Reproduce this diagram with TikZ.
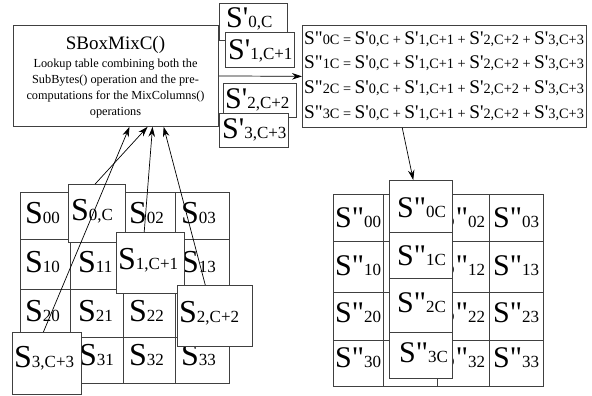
\documentclass[tikz,border=0pt]{standalone}
\usepackage{fontspec}
\newfontfamily\tf{Liberation Serif}
\usetikzlibrary{calc,arrows.meta}
\newcommand{\fs}[1]{\fontsize{#1}{#1}\selectfont}
% grid label: big S + small subscript on same baseline
\newcommand{\Sg}[1]{{\fs{32}S}{\fs{17}#1}}
\newcommand{\Sq}[2]{{\fs{30}S#1}{\fs{17}#2}}
\newcommand{\ES}[2]{{\fs{19.3}S#1}{\fs{14.3}#2}}
\newcommand{\EqLine}[1]{\ES{"}{#1C = }\ES{'}{0,C + }\ES{'}{1,C+1 + }\ES{'}{2,C+2 + }\ES{'}{3,C+3}}
\newcommand{\mkbox}[5]{\node[bx, minimum width=#4pt, minimum height=#5pt] (#1) at (#2,#3) {};}
\begin{document}
\begin{tikzpicture}[x=1pt,y=-1pt,
  bx/.style={draw=black!75, fill=white, line width=0.8pt, inner sep=0pt, anchor=north west},
  tx/.style={anchor=base west, inner sep=0pt, font=\tf},
  arr/.style={draw=black, line width=0.7pt, -{Stealth[length=10pt,width=6.5pt]}}]
\useasboundingbox (0,0) rectangle (592,396);

% ---------- SBoxMixC box ----------
\mkbox{sbox}{13}{25}{205}{101}
\node[anchor=base, inner sep=0pt, font=\tf\fs{19}] (title) at (115.5,50) {SBoxMixC()};
\node[anchor=north, inner sep=0pt, align=center, font=\tf\fontsize{12.3}{16}\selectfont] (desc) at (115.5,58.5)
  {Lookup table combining both the\\SubBytes() operation and the pre-\\computations for the MixColumns()\\operations};

% ---------- S' boxes ----------
\mkbox{sp0}{219}{3}{68}{37}
\node[tx] (sp0t) at (226,28) {\Sq{'}{0,C}};
\mkbox{sp1}{225}{32}{69}{35}
\node[tx] (sp1t) at (228,60) {\Sq{'}{1,C+1}};
\mkbox{sp2}{223}{83}{73}{34}
\node[tx] (sp2t) at (225,108) {\Sq{'}{2,C+2}};
\mkbox{sp3}{219}{113}{69}{34}
\node[tx] (sp3t) at (222,138) {\Sq{'}{3,C+3}};

% ---------- equations box ----------
\mkbox{eq}{302}{25}{284}{102}
\node[tx] (e0) at (304,45) {\EqLine{0}};
\node[tx] (e1) at (304,69) {\EqLine{1}};
\node[tx] (e2) at (304,94) {\EqLine{2}};
\node[tx] (e3) at (304,118) {\EqLine{3}};

\draw[arr] (sbox.east) -- (eq.west);

% ---------- left state grid ----------
\mkbox{g00}{20}{192}{50}{47}  \mkbox{g01}{70}{192}{53}{47}  \mkbox{g02}{123}{192}{52}{47}  \mkbox{g03}{175}{192}{54}{47}
\mkbox{g10}{20}{239}{50}{50}  \mkbox{g11}{70}{239}{53}{50}  \mkbox{g12}{123}{239}{52}{50}  \mkbox{g13}{175}{239}{54}{50}
\mkbox{g20}{20}{289}{50}{48}  \mkbox{g21}{70}{289}{53}{48}  \mkbox{g22}{123}{289}{52}{48}  \mkbox{g23}{175}{289}{54}{48}
\mkbox{g30}{20}{337}{50}{46}  \mkbox{g31}{70}{337}{53}{46}  \mkbox{g32}{123}{337}{52}{46}  \mkbox{g33}{175}{337}{54}{46}
\node[tx] (t00) at (25,223) {\Sg{00}};
\node[tx] (t02) at (129,223) {\Sg{02}};
\node[tx] (t03) at (181,223) {\Sg{03}};
\node[tx] (t10) at (25,272) {\Sg{10}};
\node[tx] (t11) at (78,272) {\Sg{11}};
\node[tx] (t13) at (181,272) {\Sg{13}};
\node[tx] (t20) at (25,321) {\Sg{20}};
\node[tx] (t21) at (78,321) {\Sg{21}};
\node[tx] (t22) at (129,321) {\Sg{22}};
\node[tx] (t31) at (79,365) {\Sg{31}};
\node[tx] (t32) at (129,365) {\Sg{32}};
\node[tx] (t33) at (181,365) {\Sg{33}};

% selected column overlays
\mkbox{o0}{68}{184}{57}{58}
\node[tx] (o0t) at (71,220) {\Sg{0,C}};
\mkbox{o1}{116}{232}{68}{61}
\node[tx] (o1t) at (118,269) {\Sg{1,C+1}};
\mkbox{o2}{177}{285}{75}{61}
\node[tx] (o2t) at (179,322) {\Sg{2,C+2}};
\mkbox{o3}{12}{332}{69}{62}
\node[tx] (o3t) at (14,367) {\Sg{3,C+3}};

% arrows into SBoxMixC
\draw[arr] ($(o3.north west)!0.45!(o3.north east)$) -- ($(sbox.south west)!0.566!(sbox.south east)$);
\draw[arr] ($(o0.north west)!0.47!(o0.north east)$) -- ($(sbox.south west)!0.654!(sbox.south east)$);
\draw[arr] ($(o1.north west)!0.41!(o1.north east)$) -- ($(sbox.south west)!0.678!(sbox.south east)$);
\draw[arr] ($(o2.north west)!0.373!(o2.north east)$) -- ($(sbox.south west)!0.732!(sbox.south east)$);

% ---------- right state grid ----------
\mkbox{h00}{333}{194}{50}{47}  \mkbox{h01}{383}{194}{54}{47}  \mkbox{h02}{437}{194}{52}{47}  \mkbox{h03}{489}{194}{54}{47}
\mkbox{h10}{333}{241}{50}{51}  \mkbox{h11}{383}{241}{54}{51}  \mkbox{h12}{437}{241}{52}{51}  \mkbox{h13}{489}{241}{54}{51}
\mkbox{h20}{333}{292}{50}{48}  \mkbox{h21}{383}{292}{54}{48}  \mkbox{h22}{437}{292}{52}{48}  \mkbox{h23}{489}{292}{54}{48}
\mkbox{h30}{333}{340}{50}{46}  \mkbox{h31}{383}{340}{54}{46}  \mkbox{h32}{437}{340}{52}{46}  \mkbox{h33}{489}{340}{54}{46}
\node[tx] (u00) at (335,227) {\Sq{"}{00}};
\node[tx] (u02) at (439,227) {\Sq{"}{02}};
\node[tx] (u03) at (493,227) {\Sq{"}{03}};
\node[tx] (u10) at (335,275) {\Sq{"}{10}};
\node[tx] (u12) at (439,275) {\Sq{"}{12}};
\node[tx] (u13) at (493,275) {\Sq{"}{13}};
\node[tx] (u20) at (335,322) {\Sq{"}{20}};
\node[tx] (u22) at (439,322) {\Sq{"}{22}};
\node[tx] (u23) at (493,322) {\Sq{"}{23}};
\node[tx] (u30) at (335,367) {\Sq{"}{30}};
\node[tx] (u32) at (439,367) {\Sq{"}{32}};
\node[tx] (u33) at (493,367) {\Sq{"}{33}};

% result column overlay
\mkbox{c0}{389}{180}{63}{52}
\node[tx] (c0t) at (397,217) {\Sq{"}{0C}};
\mkbox{c1}{389}{232}{63}{46}
\node[tx] (c1t) at (397,265) {\Sq{"}{1C}};
\mkbox{c2}{389}{278}{63}{54}
\node[tx] (c2t) at (397,312) {\Sq{"}{2C}};
\mkbox{c3}{389}{332}{63}{46}
\node[tx] (c3t) at (399,362) {\Sq{"}{3C}};

\coordinate (eqout) at ($(eq.south west)!0.352!(eq.south east)$);
\coordinate (colin) at ($(c0.north west)!0.38!(c0.north east)$);
\draw[arr] (eqout) -- (colin);
\end{tikzpicture}
\end{document}
